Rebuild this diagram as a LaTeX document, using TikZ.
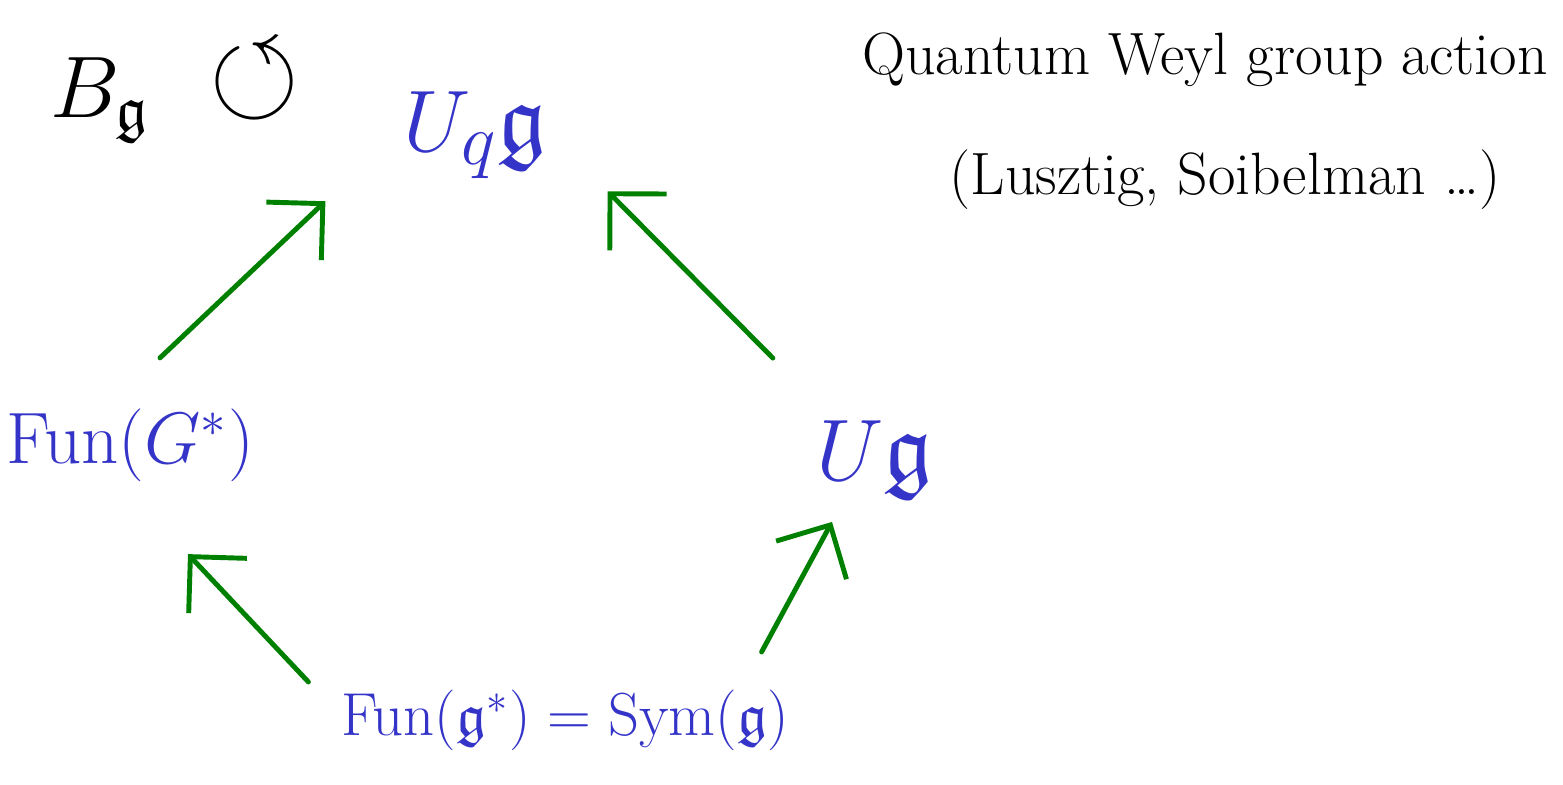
\documentclass[tikz,border=0pt]{standalone}
\usepackage{amsmath,amssymb}
\usepackage{tikz}
\usetikzlibrary{arrows.meta,positioning,calc}

\definecolor{inkblue}{HTML}{3434C8}
\definecolor{inkgreen}{HTML}{008000}

\begin{document}
\begin{tikzpicture}[
    obj/.style={text=inkblue, inner sep=2pt},
    note/.style={text=black, inner sep=2pt, font=\fontsize{17}{20}\selectfont},
    arr/.style={draw=inkgreen, line width=1.4pt, line cap=round,
        -{Straight Barb[length=4mm, width=8mm, line width=1.4pt]}}
]
\useasboundingbox (0,0) rectangle (15.63,-7.85);

\node[inner sep=1pt, font=\fontsize{26}{30}\selectfont] (bg) at (1.0,-1.0) {$B_{\mathfrak{g}}$};
\node[inner sep=0pt, font=\fontsize{33}{36}\selectfont] (act) at (2.55,-0.82) {$\circlearrowleft$};
\node[obj, font=\fontsize{28}{32}\selectfont] (uqg) at (4.75,-1.35) {$U_q\mathfrak{g}$};
\node[note] (weyl) at (12.05,-0.6) {Quantum Weyl group action};
\node[note] (refs) at (12.25,-1.8) {(Lusztig, Soibelman \dots)};
\node[obj, font=\fontsize{20}{24}\selectfont] (fun) at (1.3,-4.45) {$\mathrm{Fun}(G^*)$};
\node[obj, font=\fontsize{28}{32}\selectfont] (ug) at (8.75,-4.6) {$U\mathfrak{g}$};
\node[obj, font=\fontsize{17}{20}\selectfont] (sym) at (5.65,-7.2) {$\mathrm{Fun}(\mathfrak{g}^*)=\mathrm{Sym}(\mathfrak{g})$};

% maps into the quantum group and its classical limits
\draw[arr] ([shift={(0.3,0.43)}]fun.north) -- ([shift={(-0.7,-0.15)}]uqg.south west);
\draw[arr] ([shift={(-0.36,0.55)}]ug.north west) -- ([shift={(0.53,-0.05)}]uqg.south east);
\draw[arr] ([shift={(-0.25,0)}]sym.north west) -- ([shift={(0.58,-0.65)}]fun.south);
\draw[arr] ([shift={(-0.35,0.3)}]sym.north east) -- ([shift={(-0.43,-0.15)}]ug.south);

\end{tikzpicture}
\end{document}
